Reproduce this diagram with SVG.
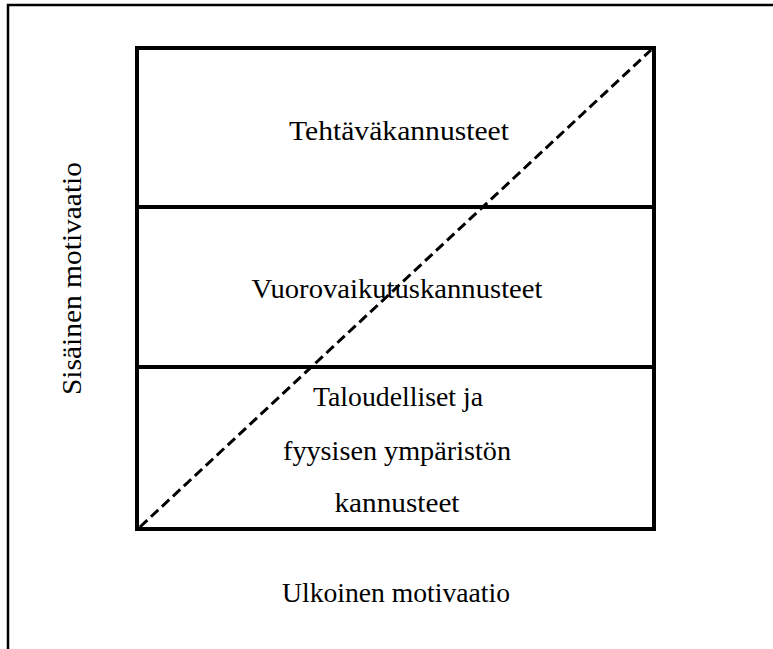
<svg xmlns="http://www.w3.org/2000/svg" width="773" height="649" viewBox="0 0 773 649">
<style>
.t{font-family:"Liberation Serif","Times New Roman",serif;font-size:28px;fill:#000;text-anchor:middle}
.b{fill:none;stroke:#000;stroke-width:4}
</style>
<rect width="773" height="649" fill="#fff"/>
<path d="M8,649 V5 H773" fill="none" stroke="#000" stroke-width="2.5"/>
<g id="box">
<rect class="b" x="137" y="48" width="517" height="481"/>
<line class="b" x1="137" y1="207" x2="654" y2="207"/>
<line class="b" x1="137" y1="367" x2="654" y2="367"/>
</g>
<g id="connectors">
<line x1="140" y1="527" x2="651" y2="50" stroke="#000" stroke-width="3" stroke-dasharray="10 5"/>
</g>
<g id="node-task"><text class="t" x="399" y="140" textLength="220" lengthAdjust="spacingAndGlyphs">Tehtäväkannusteet</text></g>
<g id="node-interaction"><text class="t" x="397" y="298" textLength="291" lengthAdjust="spacingAndGlyphs">Vuorovaikutuskannusteet</text></g>
<g id="node-economic">
<text class="t" x="398" y="406" textLength="170" lengthAdjust="spacingAndGlyphs">Taloudelliset ja</text>
<text class="t" x="397" y="460" textLength="228" lengthAdjust="spacingAndGlyphs">fyysisen ympäristön</text>
<text class="t" x="397" y="512" textLength="125" lengthAdjust="spacingAndGlyphs">kannusteet</text>
</g>
<g id="label-x"><text class="t" x="396" y="602" textLength="228" lengthAdjust="spacingAndGlyphs">Ulkoinen motivaatio</text></g>
<g id="label-y"><text class="t" transform="translate(81,278.5) rotate(-90)" x="0" y="0" textLength="233" lengthAdjust="spacingAndGlyphs">Sisäinen motivaatio</text></g>
</svg>
